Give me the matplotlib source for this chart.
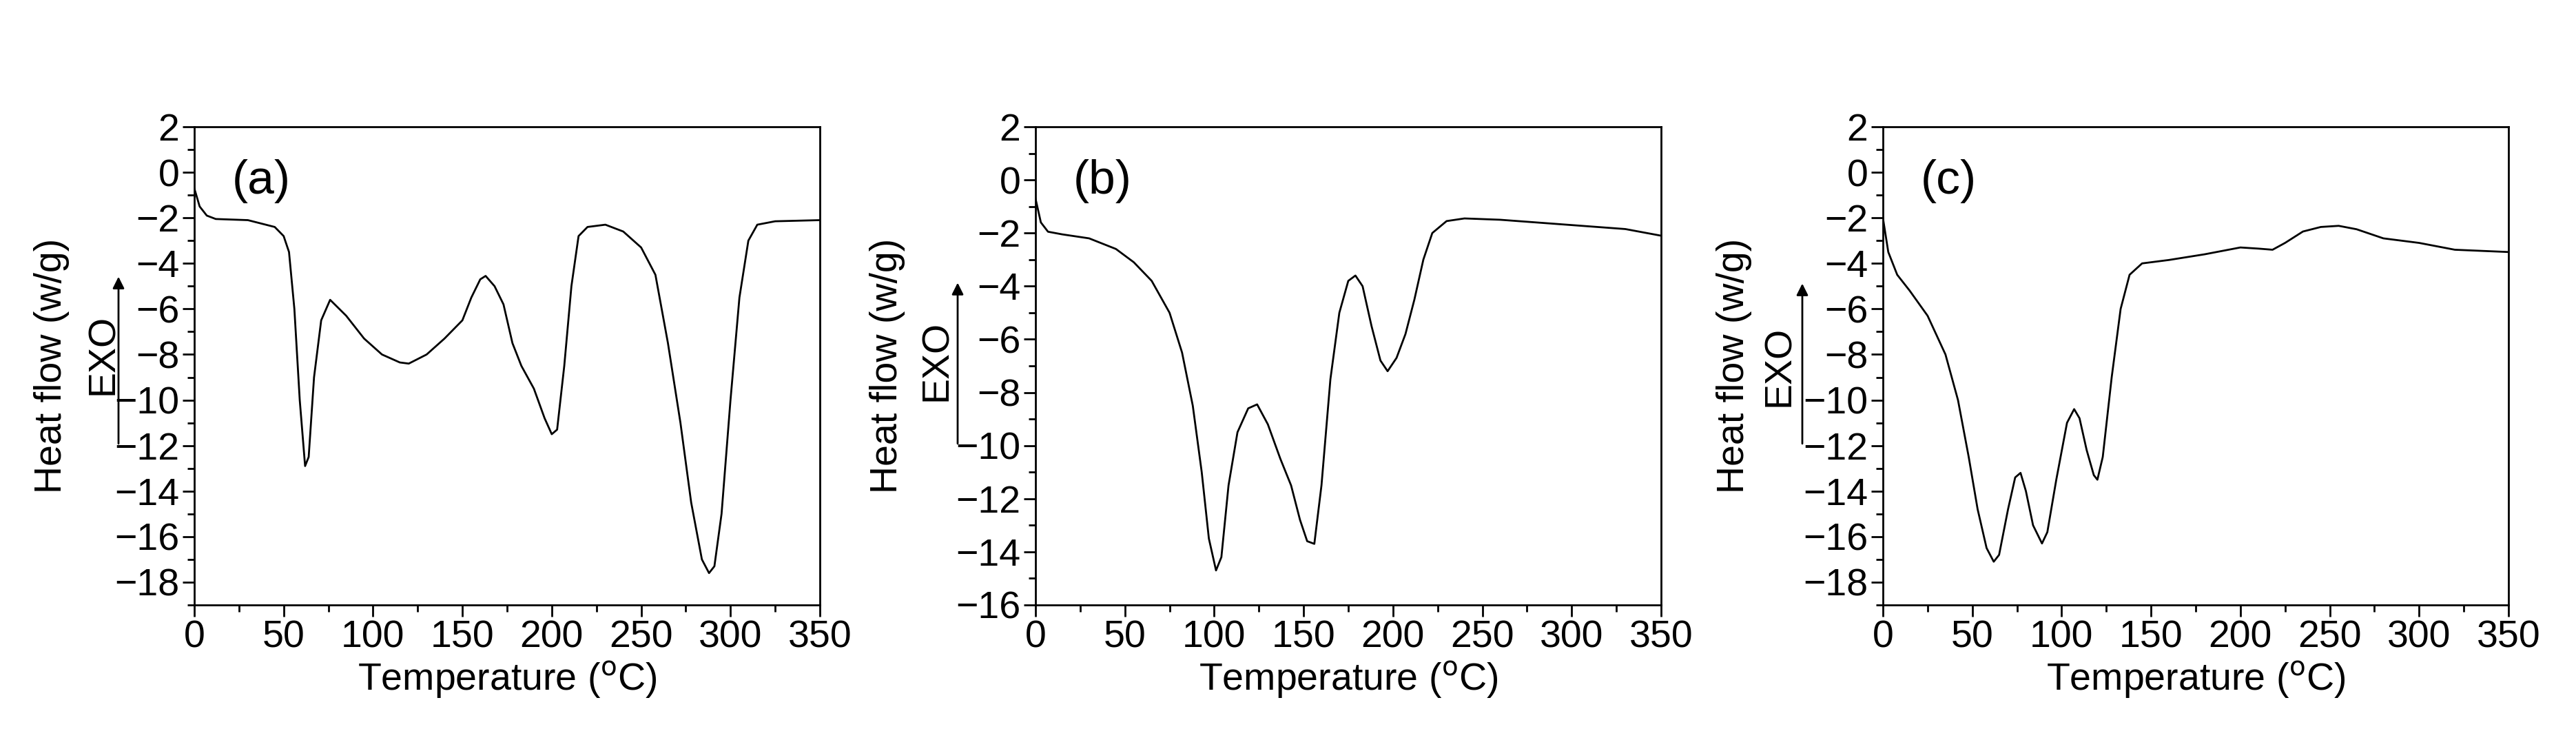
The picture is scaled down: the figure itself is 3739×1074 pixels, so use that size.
import matplotlib
matplotlib.use("Agg")
import matplotlib.pyplot as plt
from matplotlib.ticker import MultipleLocator

plt.rcParams['font.family'] = ['Liberation Sans', 'DejaVu Sans']

xa = [0,3,7,12,30,45,50,53,56,59,62,64,67,71,76,85,95,105,115,120,130,140,150,155,160,163,168,173,178,183,190,196,200,203,207,211,215,220,230,240,250,258,265,272,278,284,288,291,295,300,305,310,315,325,350]
ya = [-0.7,-1.5,-1.9,-2.05,-2.1,-2.4,-2.8,-3.5,-6,-10,-12.9,-12.5,-9,-6.5,-5.6,-6.3,-7.3,-8.0,-8.35,-8.4,-8.0,-7.3,-6.5,-5.5,-4.7,-4.55,-5.0,-5.8,-7.5,-8.5,-9.5,-10.8,-11.5,-11.3,-8.5,-5,-2.8,-2.4,-2.3,-2.6,-3.3,-4.5,-7.5,-11,-14.5,-17,-17.6,-17.3,-15,-10,-5.5,-3,-2.3,-2.15,-2.1]
xb = [0,3,7,15,30,45,55,65,75,82,88,93,97,101,104,108,113,119,124,130,137,143,148,152,156,160,165,170,175,179,183,188,193,197,202,207,212,217,222,230,240,260,300,330,350]
yb = [-0.7,-1.6,-1.95,-2.05,-2.2,-2.6,-3.1,-3.8,-5,-6.5,-8.5,-11,-13.5,-14.7,-14.2,-11.5,-9.5,-8.6,-8.45,-9.2,-10.5,-11.5,-12.8,-13.6,-13.7,-11.5,-7.5,-5,-3.8,-3.6,-4.0,-5.5,-6.8,-7.2,-6.7,-5.8,-4.5,-3,-2.0,-1.55,-1.45,-1.5,-1.7,-1.85,-2.1]
xc = [0,3,8,15,25,35,42,48,53,58,62,65,70,74,77,80,84,89,92,97,103,107,110,114,118,120,123,128,133,138,145,160,180,200,210,218,225,235,245,255,265,280,300,320,335,350]
yc = [-2,-3.5,-4.5,-5.2,-6.3,-8,-10,-12.5,-14.8,-16.5,-17.1,-16.8,-14.8,-13.4,-13.2,-14,-15.5,-16.3,-15.8,-13.5,-11,-10.4,-10.8,-12.2,-13.3,-13.5,-12.5,-9,-6,-4.5,-4.0,-3.85,-3.6,-3.3,-3.35,-3.4,-3.1,-2.6,-2.4,-2.35,-2.5,-2.9,-3.1,-3.4,-3.45,-3.5]

panels = [
    dict(x=xa, y=ya, tag='(a)', ylim=(-19, 2), left=282, arrow_x=172, arrow=(-12, -4.5), exo_x=150, exo_y=-8, lab_x=75),
    dict(x=xb, y=yb, tag='(b)', ylim=(-16, 2), left=1503, arrow_x=1390, arrow=(-10, -3.8), exo_x=1360, exo_y=-6.8, lab_x=1288),
    dict(x=xc, y=yc, tag='(c)', ylim=(-19, 2), left=2733, arrow_x=2616, arrow=(-12, -4.8), exo_x=2583, exo_y=-8.5, lab_x=2517),
]

W, H = 3739, 1074
fig = plt.figure(figsize=(W/100, H/100), dpi=100)
aw, top, bot = 908, 184, 878
for p in panels:
    ax = fig.add_axes([p['left']/W, 1-bot/H, aw/W, (bot-top)/H])
    ax.plot(p['x'], p['y'], color='black', lw=2)
    ax.set_xlim(0, 350)
    ax.set_ylim(*p['ylim'])
    ax.xaxis.set_major_locator(MultipleLocator(50))
    ax.xaxis.set_minor_locator(MultipleLocator(25))
    ax.yaxis.set_major_locator(MultipleLocator(2))
    ax.yaxis.set_minor_locator(MultipleLocator(1))
    ax.tick_params(which='both', direction='out', labelsize=40, width=2, top=False, right=False)
    ax.tick_params(which='major', length=12)
    ax.tick_params(which='minor', length=7)
    for s in ax.spines.values():
        s.set_linewidth(2)
    ax.set_xlabel('Temperature ($^{\\rm o}$C)', fontsize=40, labelpad=4)
    ax.text(0.06, 0.86, p['tag'], transform=ax.transAxes, fontsize=50)
    trans = matplotlib.transforms.blended_transform_factory(fig.transFigure, ax.transData)
    xf = p['arrow_x']/W
    ax.annotate('', xy=(xf, p['arrow'][1]), xytext=(xf, p['arrow'][0]), xycoords=trans, textcoords=trans,
                arrowprops=dict(arrowstyle='-|>', color='black', lw=2, mutation_scale=25), annotation_clip=False)
    ax.text(p['exo_x']/W, p['exo_y'], 'EXO', transform=trans, rotation=90, fontsize=40, ha='center', va='center')
    fig.text(p['lab_x']/W, 1-(top+bot)/2/H, 'Heat flow (w/g)', rotation=90, fontsize=40, ha='center', va='center')

fig.savefig('out.png', dpi=100)
